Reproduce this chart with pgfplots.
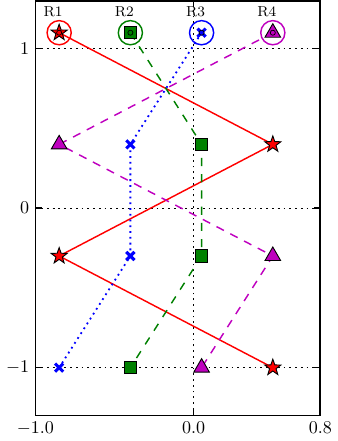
\documentclass[border=0pt]{standalone}
\usepackage{pgfplots}
\pgfplotsset{compat=1.18}
\definecolor{mplgreen}{rgb}{0,0.5,0}
\definecolor{mplmag}{rgb}{0.75,0,0.75}
\pgfdeclareplotmark{fstar}{%
  \pgfpathmoveto{\pgfpointpolar{90}{\pgfplotmarksize}}%
  \pgfpathlineto{\pgfpointpolar{126}{0.4*\pgfplotmarksize}}%
  \pgfpathlineto{\pgfpointpolar{162}{\pgfplotmarksize}}%
  \pgfpathlineto{\pgfpointpolar{198}{0.4*\pgfplotmarksize}}%
  \pgfpathlineto{\pgfpointpolar{234}{\pgfplotmarksize}}%
  \pgfpathlineto{\pgfpointpolar{270}{0.4*\pgfplotmarksize}}%
  \pgfpathlineto{\pgfpointpolar{306}{\pgfplotmarksize}}%
  \pgfpathlineto{\pgfpointpolar{342}{0.4*\pgfplotmarksize}}%
  \pgfpathlineto{\pgfpointpolar{18}{\pgfplotmarksize}}%
  \pgfpathlineto{\pgfpointpolar{54}{0.4*\pgfplotmarksize}}%
  \pgfpathclose
  \pgfusepathqfillstroke
}
\begin{document}
\begin{tikzpicture}
\begin{axis}[
  scale only axis, width=158pt, height=230pt,
  xmin=-1, xmax=0.8, ymin=-1.3, ymax=1.3,
  xtick={-1,0,0.8}, xticklabels={$-1.0$,$0.0$,$0.8$},
  ytick={-1,0,1}, yticklabels={$-1$,$0$,$1$},
  grid=major,
  grid style={black, line width=0.5pt, dash pattern=on 1pt off 2.2pt},
  tick align=inside, major tick length=3.5pt,
  axis line style={line width=0.9pt},
  every tick/.style={black, line width=0.8pt},
  clip=false,
]
% R1
\addplot[red, line width=0.8pt, mark=fstar, mark size=4.7pt,
  mark options={solid, fill=red, draw=black, line width=0.5pt}]
  coordinates {(-0.85,1.1) (0.5,0.4) (-0.85,-0.3) (0.5,-1)};
% R2
\addplot[mplgreen, line width=0.8pt, dash pattern=on 4.5pt off 4.5pt, mark=square*, mark size=3.4pt,
  mark options={solid, fill=mplgreen, draw=black, line width=0.5pt}]
  coordinates {(-0.4,1.1) (0.05,0.4) (0.05,-0.3) (-0.4,-1)};
% R3
\addplot[blue, line width=1pt, dash pattern=on 1pt off 2.2pt, mark=x, mark size=3.2pt,
  mark options={solid, line width=1.7pt}]
  coordinates {(0.05,1.1) (-0.4,0.4) (-0.4,-0.3) (-0.85,-1)};
% R4
\addplot[mplmag, line width=0.8pt, dash pattern=on 4.6pt off 4pt, mark=triangle*, mark size=5pt,
  mark options={solid, fill=mplmag, draw=black, line width=0.5pt}]
  coordinates {(0.5,1.1) (-0.85,0.4) (0.5,-0.3) (0.05,-1)};
% circles
\addplot[only marks, red, mark=o, mark size=6.7pt, mark options={line width=0.8pt}] coordinates {(-0.85,1.1)};
\addplot[only marks, mplgreen, mark=o, mark size=6.7pt, mark options={line width=0.8pt}] coordinates {(-0.4,1.1)};
\addplot[only marks, blue, mark=o, mark size=6.7pt, mark options={line width=0.8pt}] coordinates {(0.05,1.1)};
\addplot[only marks, mplmag, mark=o, mark size=6.7pt, mark options={line width=0.8pt}] coordinates {(0.5,1.1)};
\addplot[only marks, mark=*, mark size=1.4pt, mark options={fill=red, draw=black, line width=0.4pt}] coordinates {(-0.85,1.1)};
\addplot[only marks, mark=*, mark size=1.4pt, mark options={fill=mplgreen, draw=black, line width=0.4pt}] coordinates {(-0.4,1.1)};
\addplot[only marks, mark=*, mark size=1.4pt, mark options={fill=blue, draw=black, line width=0.4pt}] coordinates {(0.05,1.1)};
\addplot[only marks, mark=*, mark size=1.4pt, mark options={fill=mplmag, draw=black, line width=0.4pt}] coordinates {(0.5,1.1)};
\node[anchor=base west, font=\footnotesize, inner sep=0pt] at (axis cs:-0.95,1.2) {R1};
\node[anchor=base west, font=\footnotesize, inner sep=0pt] at (axis cs:-0.5,1.2) {R2};
\node[anchor=base west, font=\footnotesize, inner sep=0pt] at (axis cs:-0.05,1.2) {R3};
\node[anchor=base west, font=\footnotesize, inner sep=0pt] at (axis cs:0.4,1.2) {R4};
\end{axis}
\end{tikzpicture}
\end{document}
